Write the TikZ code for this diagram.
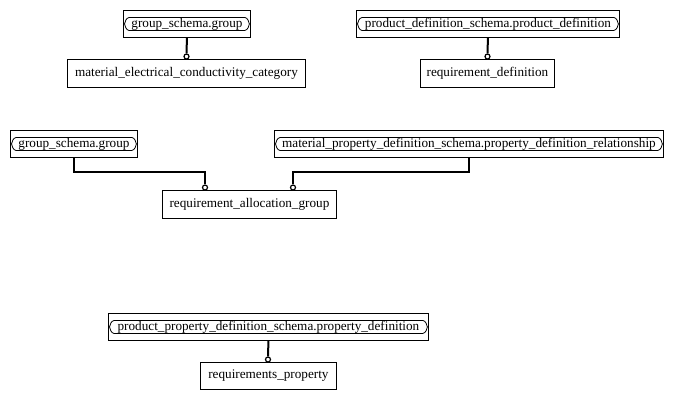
\documentclass[tikz,border=0pt]{standalone}
\usepackage{fontspec}
\setmainfont{Liberation Serif}
\usetikzlibrary{calc}
\tikzset{
  ent/.style={draw, line width=0.9pt, inner sep=0pt, anchor=north west, font=\fontsize{13.2}{15}\selectfont},
  refent/.style={ent},
  conn/.style={line width=2pt},
  endcirc/.style={circle, draw, line width=1.2pt, minimum size=5pt, inner sep=0pt, fill=white},
  inner/.style={line width=0.8pt}
}
\newcommand{\refshape}[1]{%
  \draw[inner] let \p1=(#1.west), \p2=(#1.east) in
    (\x1+6pt,\y1+6.5pt) -- (\x2-6pt,\y1+6.5pt)
    .. controls (\x2-3pt,\y1+6pt) and (\x2-2pt,\y1+2pt) .. (\x2-1.5pt,\y1)
    .. controls (\x2-2pt,\y1-2pt) and (\x2-3pt,\y1-6pt) .. (\x2-6pt,\y1-6.5pt)
    -- (\x1+6pt,\y1-6.5pt)
    .. controls (\x1+3pt,\y1-6pt) and (\x1+2pt,\y1-2pt) .. (\x1+1.5pt,\y1)
    .. controls (\x1+2pt,\y1+2pt) and (\x1+3pt,\y1+6pt) .. (\x1+6pt,\y1+6.5pt) -- cycle;}
\begin{document}
\begin{tikzpicture}[x=1pt,y=-1pt]
\useasboundingbox (0,0) rectangle (673,400);
% reference entities
\node[refent, minimum width=127pt, minimum height=27pt] (a1) at (123,10) {group\_schema.group};
\node[refent, minimum width=263pt, minimum height=27pt] (a2) at (356,10) {product\_definition\_schema.product\_definition};
\node[refent, minimum width=127pt, minimum height=27pt] (a3) at (10,130) {group\_schema.group};
\node[refent, minimum width=389pt, minimum height=27pt] (a4) at (274,130) {material\_property\_definition\_schema.property\_definition\_relationship};
\node[refent, minimum width=320pt, minimum height=27pt] (a5) at (108,313) {product\_property\_definition\_schema.property\_definition};
\refshape{a1}\refshape{a2}\refshape{a3}\refshape{a4}\refshape{a5}
% entities
\node[ent, minimum width=238pt, minimum height=28pt] (b1) at (67,59) {material\_electrical\_conductivity\_category};
\node[ent, minimum width=134pt, minimum height=28pt] (b2) at (420,59) {requirement\_definition};
\node[ent, minimum width=174pt, minimum height=28pt] (b3) at (162,190) {requirement\_allocation\_group};
\node[ent, minimum width=136pt, minimum height=27pt] (b4) at (200,362) {requirements\_property};
% end circles
\node[endcirc] (c1) at (186.5,56.5) {};
\node[endcirc] (c2) at (487.5,56.5) {};
\node[endcirc] (c3) at (205,187.5) {};
\node[endcirc] (c4) at (293,187.5) {};
\node[endcirc] (c5) at (268,359.5) {};
% connectors
\draw[conn] (a1.south) -- (c1.north);
\draw[conn] (a2.south) -- (c2.north);
\draw[conn] (a3.south) -- ++(0,14) -| (c3.north);
\draw[conn] (a4.south) -- ++(0,14) -| (c4.north);
\draw[conn] (a5.south) -- (c5.north);
\end{tikzpicture}
\end{document}
